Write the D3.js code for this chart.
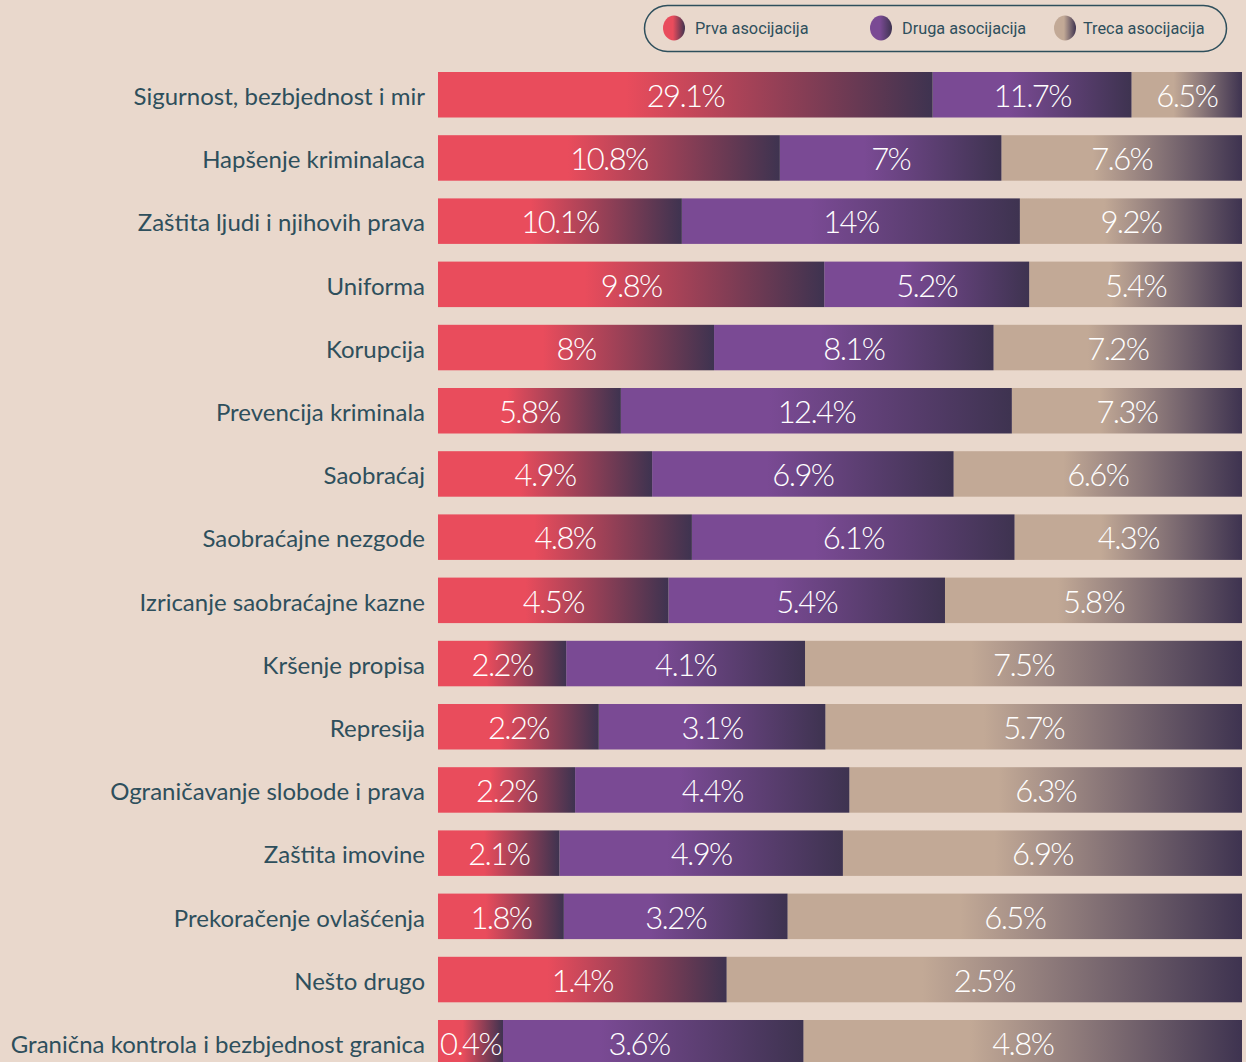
<!DOCTYPE html>
<html>
<head>
<meta charset="utf-8">
<script src="https://cdn.jsdelivr.net/npm/d3@7"></script>
<style>
  html, body { margin: 0; padding: 0; background: #e9d8cc; }
  svg { display: block; }
</style>
</head>
<body>
<svg id="chart" width="1246" height="1062"></svg>
<script>
var categories = [
  "Sigurnost, bezbjednost i mir",
  "Hapšenje kriminalaca",
  "Zaštita ljudi i njihovih prava",
  "Uniforma",
  "Korupcija",
  "Prevencija kriminala",
  "Saobraćaj",
  "Saobraćajne nezgode",
  "Izricanje saobraćajne kazne",
  "Kršenje propisa",
  "Represija",
  "Ograničavanje slobode i prava",
  "Zaštita imovine",
  "Prekoračenje ovlašćenja",
  "Nešto drugo",
  "Granična kontrola i bezbjednost granica"
];
var prva  = [29.1, 10.8, 10.1, 9.8, 8, 5.8, 4.9, 4.8, 4.5, 2.2, 2.2, 2.2, 2.1, 1.8, 1.4, 0.4];
var druga = [11.7, 7, 14, 5.2, 8.1, 12.4, 6.9, 6.1, 5.4, 4.1, 3.1, 4.4, 4.9, 3.2, 0, 3.6];
var treca = [6.5, 7.6, 9.2, 5.4, 7.2, 7.3, 6.6, 4.3, 5.8, 7.5, 5.7, 6.3, 6.9, 6.5, 2.5, 4.8];
var seriesNames = ["Prva asocijacija", "Druga asocijacija", "Treca asocijacija"];

var colors = ["#e94c5c", "#7a4a94", "#c2a996"];
var darkEnd = "#3e3350";
var textColor = "#2e4f5c";

var svg = d3.select("#chart");
var defs = svg.append("defs");

// one gradient per series: flat colour then fade to dark at the right end
colors.forEach(function(c, i){
  var g = defs.append("linearGradient")
    .attr("id", "grad" + i)
    .attr("x1", 0).attr("x2", 1).attr("y1", 0).attr("y2", 0);
  g.append("stop").attr("offset", "0%").attr("stop-color", c);
  g.append("stop").attr("offset", "38%").attr("stop-color", c);
  g.append("stop").attr("offset", "100%").attr("stop-color", darkEnd);
});

var x = d3.scaleLinear().domain([0, 1]).range([438, 1242]);
var y = d3.scaleBand().domain(categories).range([72, 1065.5]).paddingInner(0.28).paddingOuter(0);

var rows = categories.map(function(name, i){
  var vals = [prva[i], druga[i], treca[i]];
  var total = d3.sum(vals);
  var acc = 0;
  var segs = vals.map(function(v, k){
    var s = { cat: name, k: k, v: v, x0: acc / total, x1: (acc + v) / total };
    acc += v;
    return s;
  }).filter(function(s){ return s.v > 0; });
  return { name: name, segs: segs };
});

var fmt = function(v){ return v + "%"; };

// category labels
svg.append("g").selectAll("text")
  .data(categories)
  .enter().append("text")
  .attr("x", 425)
  .attr("y", function(d){ return y(d) + y.bandwidth() / 2; })
  .attr("dy", "0.43em")
  .attr("text-anchor", "end")
  .attr("fill", textColor)
  .style("font", "400 24px Lato, sans-serif")
  .text(function(d){ return d; });

var valueFont = "300 31px Lato, sans-serif";

var row = svg.append("g").selectAll("g")
  .data(rows)
  .enter().append("g");

// draw segments in reverse so earlier segments sit on top if widened
row.each(function(r){
  var g = d3.select(this);
  var segs = r.segs.slice().reverse();
  segs.forEach(function(s){
    var x0 = x(s.x0), w = x(s.x1) - x(s.x0);
    var t = g.append("text")
      .attr("fill", "#fff")
      .attr("text-anchor", "middle")
      .attr("dy", "0.36em")
      .style("font", valueFont)
      .style("letter-spacing", "-1.6px")
      .text(fmt(s.v));
    var tw = t.node().getComputedTextLength();
    if (w < tw + 4) w = tw + 4; // tiny segment widened so its label fits
    g.insert("rect", "text")
      .attr("x", x0)
      .attr("y", y(r.name))
      .attr("width", w)
      .attr("height", y.bandwidth())
      .attr("fill", "url(#grad" + s.k + ")");
    t.attr("x", x0 + w / 2).attr("y", y(r.name) + y.bandwidth() / 2 + 1);
    t.raise();
  });
});

// legend
var legend = svg.append("g");
legend.append("rect")
  .attr("x", 644.5).attr("y", 5.5)
  .attr("width", 582).attr("height", 46)
  .attr("rx", 23).attr("ry", 23)
  .attr("fill", "none")
  .attr("stroke", textColor)
  .attr("stroke-width", 1.5);

var legendX = [674, 881, 1065];
var legItems = legend.selectAll("g.item")
  .data(seriesNames)
  .enter().append("g")
  .attr("class", "item")
  .attr("transform", function(d, i){ return "translate(" + legendX[i] + ",28)"; });

colors.forEach(function(c, i){
  var g = defs.append("linearGradient")
    .attr("id", "lgrad" + i)
    .attr("x1", 0).attr("x2", 1).attr("y1", 0).attr("y2", 0);
  g.append("stop").attr("offset", "0%").attr("stop-color", c);
  g.append("stop").attr("offset", "45%").attr("stop-color", c);
  g.append("stop").attr("offset", "100%").attr("stop-color", darkEnd);
});

legItems.append("ellipse")
  .attr("rx", 11).attr("ry", 12.5)
  .attr("fill", function(d, i){ return "url(#lgrad" + i + ")"; });

legItems.append("text")
  .attr("x", function(d, i){ return i == 2 ? 18 : 21; })
  .attr("dy", "0.35em")
  .attr("fill", textColor)
  .style("font", "400 16.3px Roboto, sans-serif")
  .text(function(d){ return d; });
</script>
</body>
</html>
